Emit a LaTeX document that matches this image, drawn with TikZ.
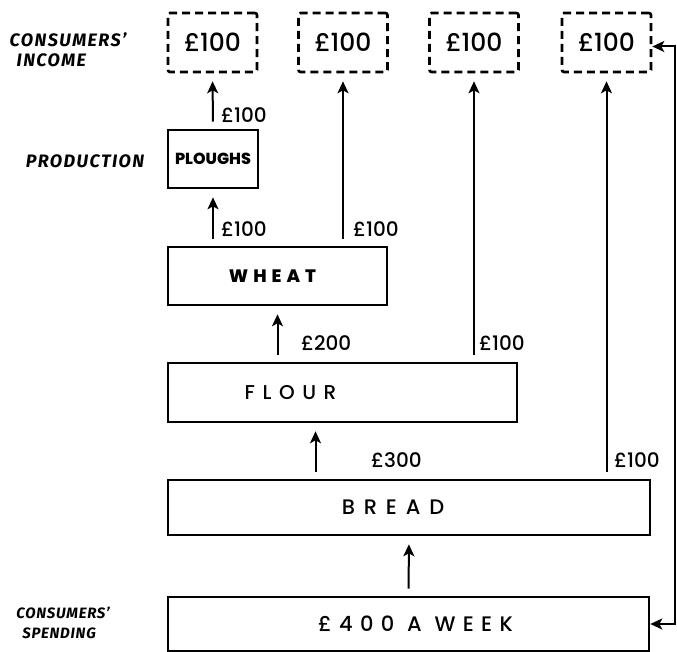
\documentclass[tikz,border=0pt]{standalone}
\usepackage{fontspec}
\setmainfont{Fira Sans}
\newfontfamily\handfont{Poppins Medium}
\usetikzlibrary{arrows.meta,positioning}

\tikzset{
	income/.style={draw, line width=2.6pt, dash pattern=on 8pt off 5pt, rounded corners=2pt,
		minimum width=89pt, minimum height=59pt, inner sep=0pt,
		font=\handfont\fontsize{25}{25}\selectfont},
	stage/.style={draw, line width=2.6pt, inner sep=0pt, minimum height=58pt},
	amount/.style={anchor=west, inner sep=0pt, font=\handfont\fontsize{20}{20}\selectfont},
	side/.style={align=left, inner sep=0pt,
		font=\fontsize{18}{20}\selectfont\bfseries\itshape\addfontfeatures{LetterSpace=8}},
	flow/.style={-{Stealth[length=12pt,width=11pt,inset=3pt]}, line width=2pt,
		shorten <=7pt, shorten >=8pt},
	back/.style={{Stealth[length=12pt,width=11pt,inset=3pt]}-{Stealth[length=12pt,width=11pt,inset=3pt]},
		line width=2pt}
}

\newcommand{\wordfont}[2]{\handfont\fontsize{#1}{#1}\selectfont\addfontfeatures{LetterSpace=#2}}

\begin{document}
\begin{tikzpicture}[x=1pt, y=-1pt]
	\useasboundingbox (0,0) rectangle (677,652);
	
	% consumers' income
	\node[income] (inc1) at (212.5,42.5) {£100};
	\node[income] (inc2) at (343,42.5) {£100};
	\node[income] (inc3) at (474,42.5) {£100};
	\node[income] (inc4) at (606.5,42.5) {£100};
	
	% stages of production
	\node[stage, minimum width=90pt, font=\wordfont{16}{0}\bfseries] (ploughs) at (213,159) {PLOUGHS};
	\node[stage, minimum width=219pt, minimum height=58pt,
		label={[font=\wordfont{18}{28}\bfseries, xshift=-5pt]center:WHEAT}] (wheat) at (277.5,276) {};
	\node[stage, minimum width=349pt, minimum height=59pt,
		label={[font=\wordfont{20}{38}, xshift=-52pt]center:FLOUR}] (flour) at (342.5,392.5) {};
	\node[stage, minimum width=482pt, minimum height=55pt,
		label={[font=\wordfont{21}{42}, xshift=-16pt]center:BREAD}] (bread) at (409,507.5) {};
	\node[stage, minimum width=481pt, minimum height=54pt,
		label={[font=\wordfont{21}{35}, xshift=7pt]center:£400 A WEEK}] (spend) at (408.5,624) {};
	
	% side texts
	\node[side] (incometxt) at (68,50) {CONSUMERS'\\\hspace*{7pt}INCOME};
	\node[side] (prodtxt) at (85,161) {PRODUCTION};
	\node[side, font=\fontsize{15}{20}\selectfont\bfseries\itshape\addfontfeatures{LetterSpace=5}]
		(spendtxt) at (63,623) {CONSUMERS'\\\hspace*{6pt}SPENDING};
	
	% flows
	\coordinate (grain) at ([xshift=-27pt]flour.south);
	\coordinate (back in) at ([yshift=-4pt]inc4.east);
	\draw[flow] (ploughs.north) -- (inc1.south);
	\draw[flow] (ploughs.south |- wheat.north) -- (ploughs.south);
	\draw[flow] (inc2.south |- wheat.north) -- (inc2.south);
	\draw[flow] (wheat.south |- flour.north) -- (wheat.south);
	\draw[flow] (inc3.south |- flour.north) -- (inc3.south);
	\draw[flow] (grain |- bread.north) -- (grain);
	\draw[flow] (inc4.south |- bread.north) -- (inc4.south);
	\draw[flow] (spend.north) -- (bread.south);
	\draw[back] (spend.east) -- ++(25,0) |- (back in);
	
	% amounts
	\node[amount] (a1) at (221,115) {£100};
	\node[amount] (a2) at (221,229) {£100};
	\node[amount] (a3) at (353,229) {£100};
	\node[amount] (a4) at (301,343) {£200};
	\node[amount] (a5) at (479,343) {£100};
	\node[amount] (a6) at (371,460) {£300};
	\node[amount] (a7) at (614,460) {£100};
\end{tikzpicture}
\end{document}
